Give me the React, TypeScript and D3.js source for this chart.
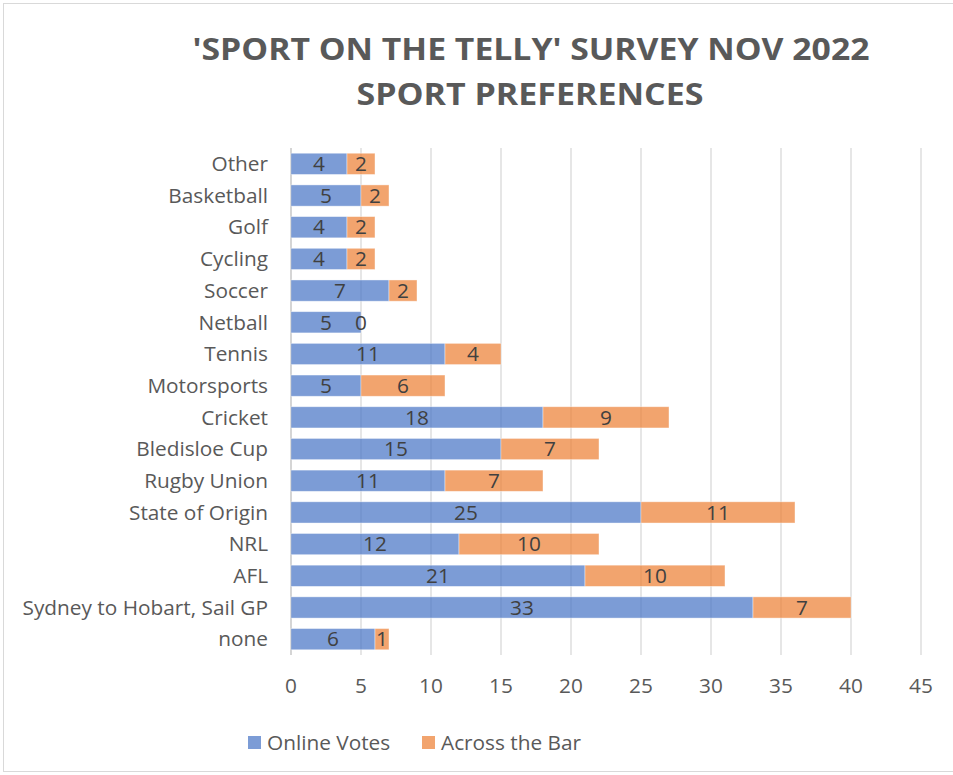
import React from "react";
import * as d3 from "d3";

const categories = ["Other","Basketball","Golf","Cycling","Soccer","Netball","Tennis","Motorsports","Cricket","Bledisloe Cup","Rugby Union","State of Origin","NRL","AFL","Sydney to Hobart, Sail GP","none"];
const onlineVotes = [4,5,4,4,7,5,11,5,18,15,11,25,12,21,33,6];
const acrossTheBar = [2,2,2,2,2,0,4,6,9,7,7,11,10,10,7,1];
const seriesNames = ["Online Votes","Across the Bar"];
const xTicks = [0,5,10,15,20,25,30,35,40,45];
const titleLines = ["'SPORT ON THE TELLY' SURVEY NOV 2022","SPORT PREFERENCES"];

const W = 953, H = 775;
const FONT = "'Open Sans', sans-serif";
const BLUE = "#4472C4", ORANGE = "#ED7D31";
const FS = 20.8;

export default function App() {
  const x = d3.scaleLinear().domain([0,45]).range([291,921]);
  const y = d3.scaleBand().domain(categories).range([148,655]).paddingInner(0.33).paddingOuter(0.165);
  const colors = [BLUE, ORANGE];
  return (
    <svg width={W} height={H} style={{position:"absolute",left:0,top:0,background:"#fff"}}>
      <rect x={3.5} y={3.5} width={W+10} height={H-7} fill="#fff" stroke="#d9d9d9" strokeWidth={1}/>
      <text x={531} y={60} textAnchor="middle" fontFamily={FONT} fontWeight={700} fontSize={30} fill="#595959" textLength={677} lengthAdjust="spacingAndGlyphs">{titleLines[0]}</text>
      <text x={530} y={105} textAnchor="middle" fontFamily={FONT} fontWeight={700} fontSize={30} fill="#595959" textLength={347} lengthAdjust="spacingAndGlyphs">{titleLines[1]}</text>
      {xTicks.map(t=>(
        <line key={t} x1={x(t)} x2={x(t)} y1={148} y2={655} stroke={t===0?"#bfbfbf":"#d9d9d9"} strokeWidth={1.3}/>
      ))}
      {categories.map((c,i)=>{
        const y0 = y(c)!;
        const h = y.bandwidth();
        const v1 = onlineVotes[i], v2 = acrossTheBar[i];
        return (
          <g key={c} stroke="#fff" strokeOpacity={0.5} strokeWidth={0.8}>
            <rect x={x(0)} y={y0} width={x(v1)-x(0)} height={h} fill={BLUE} fillOpacity={0.7}/>
            {v2>0 && <rect x={x(v1)} y={y0} width={x(v1+v2)-x(v1)} height={h} fill={ORANGE} fillOpacity={0.7}/>}
          </g>
        );
      })}
      {categories.map((c,i)=>{
        const yc = y(c)! + y.bandwidth()/2;
        const v1 = onlineVotes[i], v2 = acrossTheBar[i];
        return (
          <g key={"l"+c} fontFamily={FONT} fontSize={FS} fill="#404040">
            <text x={268} y={yc} dy="0.35em" textAnchor="end" fill="#595959">{c}</text>
            <text x={(x(0)+x(v1))/2} y={yc} dy="0.35em" textAnchor="middle">{v1}</text>
            <text x={(x(v1)+x(v1+v2))/2} y={yc} dy="0.35em" textAnchor="middle">{v2}</text>
          </g>
        );
      })}
      {xTicks.map(t=>(
        <text key={"t"+t} x={x(t)} y={686} dy="0.35em" textAnchor="middle" fontFamily={FONT} fontSize={FS} fill="#595959">{t}</text>
      ))}
      {seriesNames.map((s,i)=>{
        const lx = i===0 ? 248 : 422;
        return (
          <g key={s}>
            <rect x={lx} y={736} width={13} height={13} fill={colors[i]} fillOpacity={0.7}/>
            <text x={lx+19} y={743} dy="0.35em" fontFamily={FONT} fontSize={FS} fill="#595959">{s}</text>
          </g>
        );
      })}
    </svg>
  );
}
